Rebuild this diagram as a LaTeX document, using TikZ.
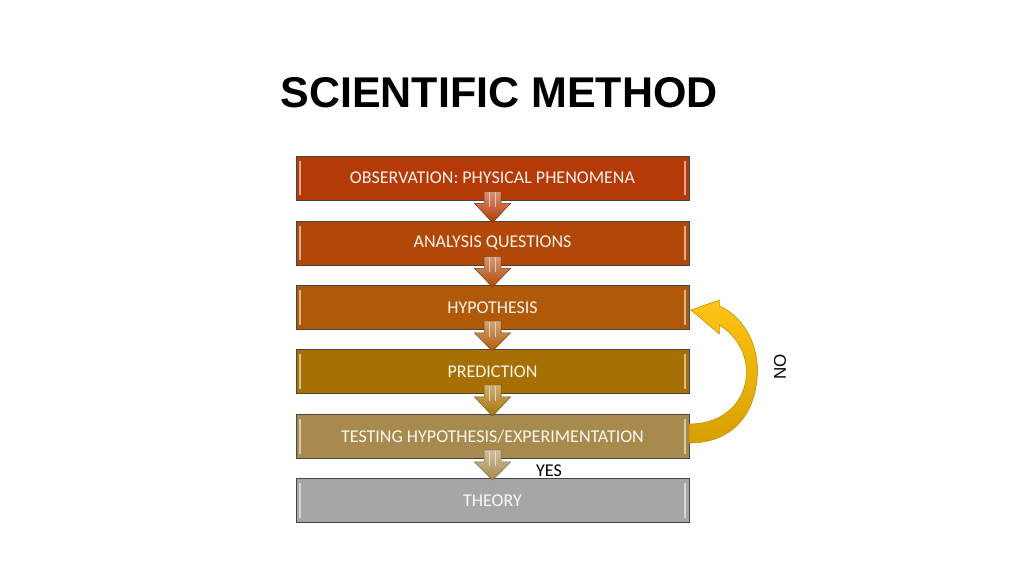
\documentclass[tikz,border=0pt]{standalone}
\usepackage{fontspec}
\setmainfont{Carlito}
\newfontfamily\arialfont{Liberation Sans}
\usetikzlibrary{calc}
\definecolor{cA}{RGB}{180,58,8}
\definecolor{cB}{RGB}{177,72,8}
\definecolor{cC}{RGB}{176,89,8}
\definecolor{cD}{RGB}{167,112,5}
\definecolor{cE}{RGB}{169,138,78}
\definecolor{cF}{RGB}{166,166,166}
\definecolor{edge}{RGB}{70,70,70}
\definecolor{goldA}{RGB}{255,196,20}
\definecolor{goldB}{RGB}{214,160,0}
\definecolor{goldC}{RGB}{196,146,0}
\tikzset{
  stepbox/.style={draw=edge, line width=0.8pt, fill=#1, minimum width=393pt, minimum height=44pt,
    inner sep=0pt, text=white!93!#1, font=\fontsize{18}{20}\selectfont},
  bevel/.style={line width=1.6pt, draw=#1!45!white},
  arrbody/.style={draw=#1!75!black, line width=0.5pt, top color=#1!55!white, bottom color=#1},
  stripe/.style={draw=#1!30!white, line width=1.1pt},
  lbl/.style={text=black, inner sep=0pt}
}
\newcommand{\downarr}[3]{%
  \draw[arrbody=#3] ($(#1.south)+(-8.5,-9)$) -- ($(#1.south)+(8.5,-9)$) -- ($(#1.south)+(8.5,3)$)
    -- ($(#1.south)+(18,3)$) -- ($(#2.north)+(0,2)$) -- ($(#1.south)+(-18,3)$)
    -- ($(#1.south)+(-8.5,3)$) -- cycle;
  \draw[stripe=#3] ($(#1.south)+(-3,-8)$) -- ($(#1.south)+(-3,7)$);
  \draw[stripe=#3] ($(#1.south)+(3,-8)$) -- ($(#1.south)+(3,7)$);
}
\newcommand{\bev}[2]{%
  \draw[bevel=#2] ($(#1.north west)+(4.5,5)$) -- ($(#1.south west)+(4.5,-5)$);
  \draw[bevel=#2] ($(#1.north east)+(-4.5,5)$) -- ($(#1.south east)+(-4.5,-5)$);
}
\begin{document}
\begin{tikzpicture}[x=1pt,y=-1pt]
\useasboundingbox[fill=white] (0,0) rectangle (1024,576);
\node[lbl, font=\arialfont\bfseries\fontsize{43}{46}\selectfont] (title) at (499,93) {SCIENTIFIC METHOD};
\node[stepbox=cA] (b1) at (492.5,178) {OBSERVATION: PHYSICAL PHENOMENA};
\node[stepbox=cB] (b2) at (492.5,243) {ANALYSIS QUESTIONS};
\node[stepbox=cC] (b3) at (492.5,307.5) {HYPOTHESIS};
\node[stepbox=cD] (b4) at (492.5,371.5) {PREDICTION};
\node[stepbox=cE] (b5) at (492.5,436.5) {TESTING HYPOTHESIS/EXPERIMENTATION};
\node[stepbox=cF] (b6) at (492.5,500.5) {THEORY};
\bev{b1}{cA}\bev{b2}{cB}\bev{b3}{cC}\bev{b4}{cD}\bev{b5}{cE}\bev{b6}{cF}
\downarr{b1}{b2}{cA}
\downarr{b2}{b3}{cB}
\downarr{b3}{b4}{cC}
\downarr{b4}{b5}{cD}
\downarr{b5}{b6}{cE}
\node[lbl, font=\fontsize{18}{20}\selectfont] (yes) at (549,471) {YES};
% curved NO arrow
\draw[draw=goldC, line width=0.6pt, top color=goldA, bottom color=goldB]
  ($(b5.east)+(0,6.5)$) .. controls ($(b5.east)+(46,6.5)$) and ($(b5.east)+(68,-26.5)$) .. ($(b5.east)+(68,-66.5)$)
  .. controls ($(b3.east)+(68,32.5)$) and ($(b3.east)+(51,7.5)$) .. ($(b3.east)+(30,-1.5)$)
  -- ($(b3.east)+(30,-7.5)$) -- ($(b3.east)+(1.5,2.5)$) -- ($(b3.east)+(30,26.5)$) -- ($(b3.east)+(30,17.5)$)
  .. controls ($(b3.east)+(46,27.5)$) and ($(b3.east)+(57,44.5)$) .. ($(b3.east)+(57,64.5)$)
  .. controls ($(b5.east)+(57,-36.5)$) and ($(b5.east)+(36,-12.5)$) .. ($(b5.east)+(0,-12.5)$) -- cycle;
\node[lbl, rotate=90, font=\arialfont\fontsize{17}{19}\selectfont] (no) at (780,367) {NO};
\end{tikzpicture}
\end{document}
